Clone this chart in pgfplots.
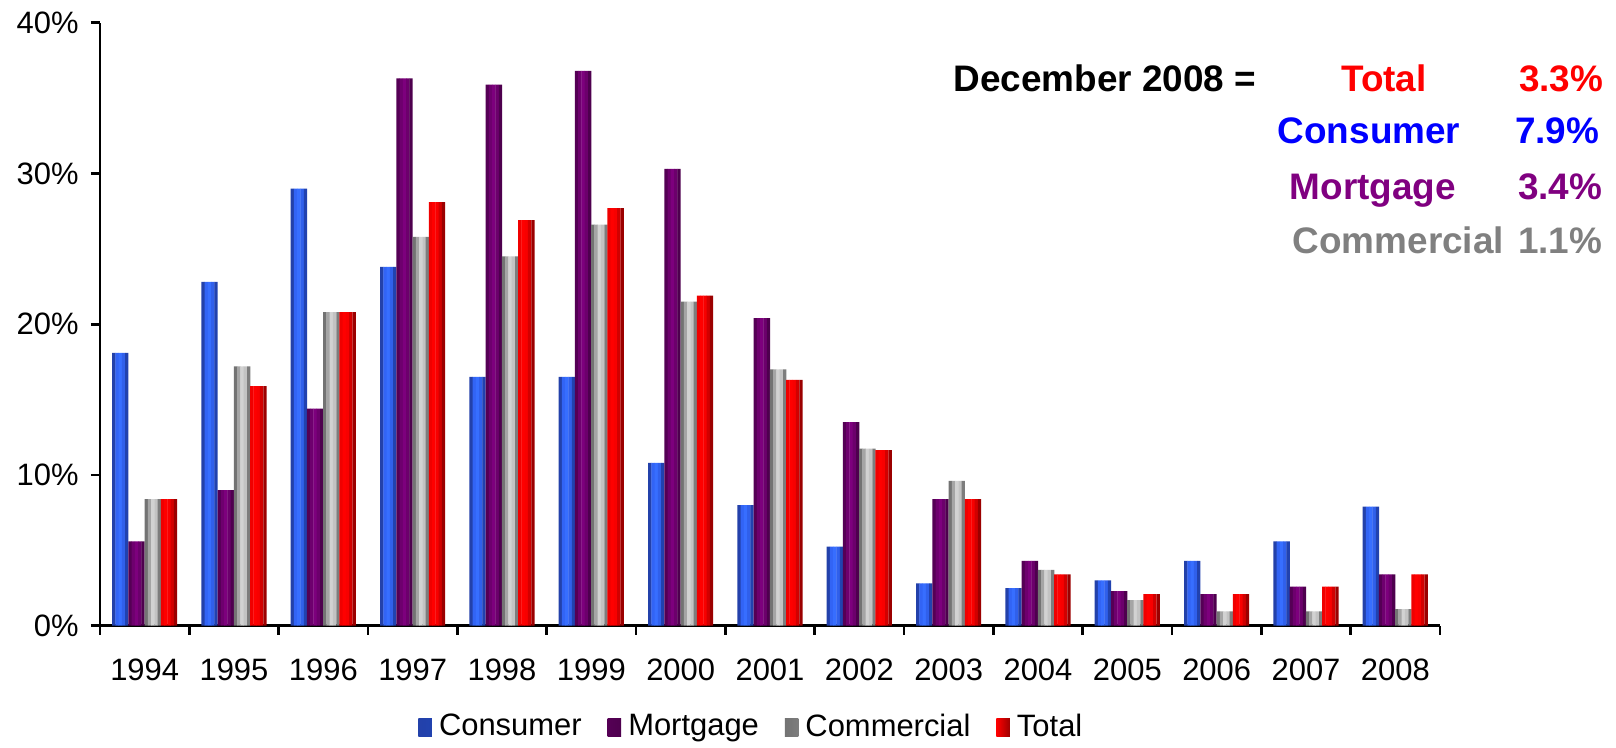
\documentclass[border=0pt]{standalone}
\usepackage{fontspec}
\setmainfont{Liberation Sans}
\usepackage{pgfplots}
\usepackage{pgfplotstable}
\pgfplotsset{compat=1.18}

% charge-off rates by year, in percent
\pgfplotstableread{
x  cons  mort  comm  tot
0  18.1  5.6   8.4   8.4
1  22.8  9.0   17.2  15.9
2  29.0  14.4  20.8  20.8
3  23.8  36.3  25.8  28.1
4  16.5  35.9  24.5  26.9
5  16.5  36.8  26.6  27.7
6  10.8  30.3  21.5  21.9
7  8.0   20.4  17.0  16.3
8  5.25  13.5  11.75 11.65
9  2.8   8.4   9.6   8.4
10 2.5   4.3   3.7   3.4
11 3.0   2.3   1.7   2.1
12 4.3   2.1   0.95  2.1
13 5.6   2.6   0.95  2.6
14 7.9   3.4   1.1   3.4
}\loanloss

% five vertical strips per bar give the shaded look
\definecolor{cons1}{RGB}{35,65,170}
\definecolor{cons2}{RGB}{50,100,245}
\definecolor{cons3}{RGB}{55,110,255}
\definecolor{cons4}{RGB}{48,96,235}
\definecolor{cons5}{RGB}{33,66,175}
\definecolor{mort1}{RGB}{85,0,85}
\definecolor{mort2}{RGB}{110,0,110}
\definecolor{mort3}{RGB}{125,0,125}
\definecolor{mort4}{RGB}{108,0,108}
\definecolor{mort5}{RGB}{78,0,78}
\definecolor{comm1}{RGB}{115,115,115}
\definecolor{comm2}{RGB}{165,165,165}
\definecolor{comm3}{RGB}{210,210,210}
\definecolor{comm4}{RGB}{195,195,195}
\definecolor{comm5}{RGB}{125,125,125}
\definecolor{tot1}{RGB}{240,0,0}
\definecolor{tot2}{RGB}{255,0,0}
\definecolor{tot3}{RGB}{248,0,0}
\definecolor{tot4}{RGB}{210,0,0}
\definecolor{tot5}{RGB}{155,0,0}
% text colours
\definecolor{txtBlue}{RGB}{0,0,255}
\definecolor{txtPurple}{RGB}{128,0,128}
\definecolor{txtGray}{RGB}{128,128,128}
\definecolor{txtRed}{RGB}{255,0,0}

% #1 column, #2 colour prefix, #3-#7 strip shifts
\newcommand{\barstrips}[7]{%
  \addplot[ybar, bar width=0.039, bar shift=#3, fill=#21, draw=none, forget plot] table[x=x, y=#1] {\loanloss};
  \addplot[ybar, bar width=0.039, bar shift=#4, fill=#22, draw=none, forget plot] table[x=x, y=#1] {\loanloss};
  \addplot[ybar, bar width=0.039, bar shift=#5, fill=#23, draw=none, forget plot] table[x=x, y=#1] {\loanloss};
  \addplot[ybar, bar width=0.039, bar shift=#6, fill=#24, draw=none, forget plot] table[x=x, y=#1] {\loanloss};
  \addplot[ybar, bar width=0.0364, bar shift=#7, fill=#25, draw=none, forget plot] table[x=x, y=#1] {\loanloss};
}

\begin{document}
\begin{tikzpicture}
\path[use as bounding box] (-1.0cm,-1.214cm) rectangle (15.16cm,6.257cm);
\begin{axis}[
    at={(0,0)}, anchor=south west,
    scale only axis,
    width=13.4cm, height=6.03cm,
    xmin=-0.5, xmax=14.5,
    ymin=0, ymax=40,
    axis x line*=bottom, axis y line*=left,
    axis line style={line width=0.8pt, -},
    tick style={black, line width=0.8pt},
    tick align=outside,
    major tick length=0.09cm, minor tick length=0.09cm,
    xtick={0,...,14},
    xticklabels={1994,1995,1996,1997,1998,1999,2000,2001,2002,2003,2004,2005,2006,2007,2008},
    major x tick style={draw=none},
    minor xtick={-0.5,0.5,...,14.5},
    ytick={0,10,20,30,40},
    yticklabel={\pgfmathprintnumber{\tick}\%},
    /pgf/number format/assume math mode=true,
    tick label style={font=\fontsize{8.8}{10.5}\selectfont},
    xticklabel style={yshift=-0.12cm},
    legend style={at={(0.488,-0.169)}, anchor=center, legend columns=-1,
        draw=none, fill=none, font=\fontsize{8.8}{10.5}\selectfont,
        /tikz/every even column/.append style={column sep=0.19cm}},
    legend image code/.code={\path[#1, draw=none] (0cm,-0.09cm) rectangle (0.135cm,0.09cm);},
]
\barstrips{cons}{cons}{-0.3458}{-0.3094}{-0.273}{-0.2366}{-0.2002}
\barstrips{mort}{mort}{-0.1638}{-0.1274}{-0.091}{-0.0546}{-0.0182}
\barstrips{comm}{comm}{0.0182}{0.0546}{0.091}{0.1274}{0.1638}
\barstrips{tot}{tot}{0.2002}{0.2366}{0.273}{0.3094}{0.3458}
\addlegendimage{left color=cons1, middle color=cons3, right color=cons5}
\addlegendentry{Consumer}
\addlegendimage{left color=mort1, middle color=mort3, right color=mort5}
\addlegendentry{Mortgage}
\addlegendimage{left color=comm1, middle color=comm3, right color=comm5}
\addlegendentry{Commercial}
\addlegendimage{left color=tot2, middle color=tot3, right color=tot5}
\addlegendentry{Total}
\end{axis}
\begin{scope}[every node/.style={inner sep=0pt, font=\fontsize{10.5}{12}\selectfont\bfseries}]
\node[anchor=base east] at (11.57cm,5.339cm) {December 2008 =};
\node[text=txtRed, anchor=base] at (12.84cm,5.339cm) {Total};
\node[text=txtRed, anchor=base east] at (15.04cm,5.339cm) {3.3\%};
\node[text=txtBlue, anchor=base] at (12.69cm,4.823cm) {Consumer};
\node[text=txtBlue, anchor=base east] at (15.00cm,4.823cm) {7.9\%};
\node[text=txtPurple, anchor=base] at (12.73cm,4.266cm) {Mortgage};
\node[text=txtPurple, anchor=base east] at (15.03cm,4.266cm) {3.4\%};
\node[text=txtGray, anchor=base west] at (11.92cm,3.726cm) {Commercial};
\node[text=txtGray, anchor=base east] at (15.03cm,3.726cm) {1.1\%};
\end{scope}
\end{tikzpicture}
\end{document}
